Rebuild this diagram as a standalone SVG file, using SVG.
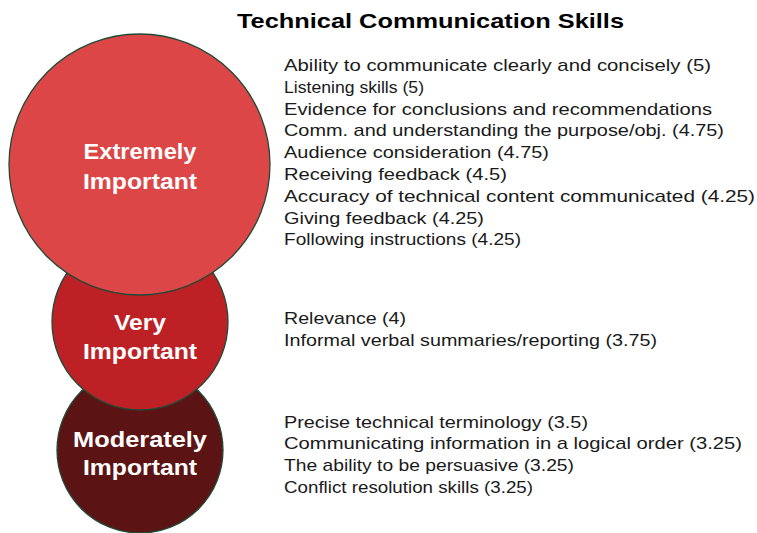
<svg xmlns="http://www.w3.org/2000/svg" width="757" height="533" viewBox="0 0 757 533">
<style>
.c{stroke:#1f4a35;stroke-width:1.3}
.lbl{font-family:"Liberation Sans",Arial,sans-serif;font-weight:bold;font-size:22px;fill:#ffffff;text-anchor:middle}
.item{font-family:"Liberation Sans",Arial,sans-serif;font-size:17px;fill:#1a1a1a}
.title{font-family:"Liberation Sans",Arial,sans-serif;font-weight:bold;font-size:21px;fill:#000000}
</style>
<rect width="757" height="533" fill="#ffffff"/>
<text class="title" x="237" y="28" textLength="387" lengthAdjust="spacingAndGlyphs">Technical Communication Skills</text>
<g id="moderately">
<circle class="c" cx="140" cy="450" r="83" fill="#5c1313"/>
<text class="lbl" x="140" y="447" textLength="134" lengthAdjust="spacingAndGlyphs">Moderately</text>
<text class="lbl" x="140" y="475" textLength="114" lengthAdjust="spacingAndGlyphs">Important</text>
</g>
<g id="very">
<circle class="c" cx="140" cy="322" r="88" fill="#be2125"/>
<text class="lbl" x="140" y="330" textLength="52" lengthAdjust="spacingAndGlyphs">Very</text>
<text class="lbl" x="140" y="359" textLength="114" lengthAdjust="spacingAndGlyphs">Important</text>
</g>
<g id="extremely">
<circle class="c" cx="139.5" cy="164.5" r="130.5" fill="#dc4647"/>
<text class="lbl" x="140" y="159" textLength="113" lengthAdjust="spacingAndGlyphs">Extremely</text>
<text class="lbl" x="140" y="189" textLength="114" lengthAdjust="spacingAndGlyphs">Important</text>
</g>
<g id="extremely-items">
<text class="item" x="284" y="71" textLength="427" lengthAdjust="spacingAndGlyphs">Ability to communicate clearly and concisely (5)</text>
<text class="item" x="284" y="92.8" textLength="140" lengthAdjust="spacingAndGlyphs">Listening skills (5)</text>
<text class="item" x="284" y="114.6" textLength="428" lengthAdjust="spacingAndGlyphs">Evidence for conclusions and recommendations</text>
<text class="item" x="284" y="136.4" textLength="440" lengthAdjust="spacingAndGlyphs">Comm. and understanding the purpose/obj. (4.75)</text>
<text class="item" x="284" y="158.2" textLength="265" lengthAdjust="spacingAndGlyphs">Audience consideration (4.75)</text>
<text class="item" x="284" y="180" textLength="223" lengthAdjust="spacingAndGlyphs">Receiving feedback (4.5)</text>
<text class="item" x="284" y="201.8" textLength="471" lengthAdjust="spacingAndGlyphs">Accuracy of technical content communicated (4.25)</text>
<text class="item" x="284" y="223.6" textLength="200" lengthAdjust="spacingAndGlyphs">Giving feedback (4.25)</text>
<text class="item" x="284" y="245.4" textLength="237" lengthAdjust="spacingAndGlyphs">Following instructions (4.25)</text>
</g>
<g id="very-items">
<text class="item" x="284" y="324" textLength="122" lengthAdjust="spacingAndGlyphs">Relevance (4)</text>
<text class="item" x="284" y="346" textLength="373" lengthAdjust="spacingAndGlyphs">Informal verbal summaries/reporting (3.75)</text>
</g>
<g id="moderately-items">
<text class="item" x="284" y="427.5" textLength="304" lengthAdjust="spacingAndGlyphs">Precise technical terminology (3.5)</text>
<text class="item" x="284" y="449.3" textLength="458" lengthAdjust="spacingAndGlyphs">Communicating information in a logical order (3.25)</text>
<text class="item" x="284" y="471.1" textLength="290" lengthAdjust="spacingAndGlyphs">The ability to be persuasive (3.25)</text>
<text class="item" x="284" y="492.9" textLength="249" lengthAdjust="spacingAndGlyphs">Conflict resolution skills (3.25)</text>
</g>
<g id="connectors"></g>
</svg>
